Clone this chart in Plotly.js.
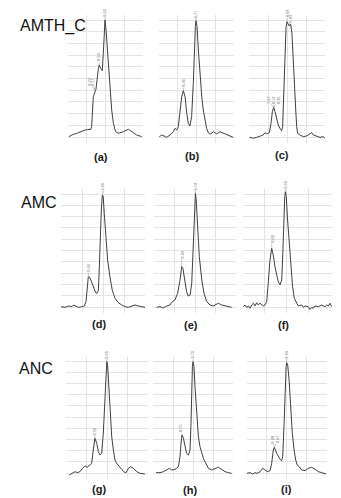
<!DOCTYPE html>
<html><head><meta charset="utf-8">
<script src="https://cdn.plot.ly/plotly-3.0.1.min.js"></script>
<style>html,body{margin:0;padding:0;background:#fff}#chart{width:341px;height:498px}</style>
</head><body><div id="chart"></div>
<script>
// ---------------- DATA ----------------
const panelLabels = ['(a)','(b)','(c)','(d)','(e)','(f)','(g)','(h)','(i)'];
const rowLabels = ['AMTH_C','AMC','ANC'];

const time_a = [0.05,0.28,0.45,0.64,0.75,0.91,1.05,1.17,1.20,1.26,1.35,1.44,1.49,1.62,1.67,1.74,1.83,1.92,1.97,2.03,2.15,2.24,2.33,2.42,2.54,2.68,2.95,3.22,3.40,3.66,3.93];
const signal_a = [0.3,2.3,3.0,4.5,5.2,6.0,6.3,6.6,6.0,8.8,34.4,39.6,40.8,58.7,61.5,58.7,56.7,82.9,100,91.5,60.1,40.2,23.1,11.7,4.5,3.2,4.5,6.6,4.5,1.7,0.3];

const time_b = [0.02,0.14,0.27,0.41,0.59,0.76,0.85,0.94,1.03,1.12,1.21,1.30,1.39,1.48,1.56,1.65,1.74,1.83,1.88,1.94,1.97,2.03,2.10,2.19,2.28,2.36,2.45,2.54,2.63,2.72,2.90,3.08,3.25,3.43,3.61,3.79,3.96];
const signal_b = [0.3,1.7,0.9,-0.3,1.7,4.5,7.4,6.0,8.8,20.2,34.4,39.6,34.4,20.2,11.7,9.4,17.4,45.9,74.4,94.3,99.4,94.3,74.4,51.5,34.4,23.1,13.1,7.4,3.7,2.3,4.5,2.6,4.5,3.2,1.7,0.3,-0.3];

const time_c = [0.02,0.23,0.40,0.58,0.75,0.84,0.93,1.07,1.16,1.23,1.30,1.37,1.46,1.54,1.63,1.72,1.77,1.84,1.89,1.95,2.00,2.07,2.12,2.19,2.26,2.33,2.38,2.46,2.51,2.56,2.68,2.86,3.04,3.21,3.30,3.39,3.56,3.74,3.91,4.00];
const signal_c = [-0.3,-1.1,-0.3,0.9,1.7,3.7,2.6,3.7,11.7,21.6,25.4,21.6,14.5,10.3,7.4,5.4,8.8,45.9,74.4,94.3,98.5,96.6,94.9,96.6,88.6,65.8,43.0,23.1,8.8,3.2,1.7,0.3,0.9,2.6,3.7,1.7,0.9,-0.3,0.3,-1.1];

const time_d = [0.00,0.19,0.35,0.51,0.59,0.70,0.83,0.98,1.11,1.19,1.25,1.30,1.37,1.46,1.59,1.65,1.71,1.78,1.82,1.87,1.92,1.97,2.01,2.06,2.13,2.22,2.33,2.44,2.57,2.73,2.89,3.05,3.21,3.37,3.52,3.68,3.84,4.00];
const signal_d = [0.3,-0.3,0.9,0.3,1.8,0.9,-0.3,0.3,0.9,4.7,18.0,26.8,26.3,22.4,16.5,12.7,12.1,15.0,32.7,62.2,85.8,99.1,97.6,82.9,62.2,41.6,26.8,15.0,7.7,3.8,1.8,0.3,-0.3,0.9,1.8,0.9,0.3,-0.3];

const time_e = [0.13,0.29,0.45,0.62,0.78,0.89,1.02,1.15,1.27,1.35,1.41,1.51,1.59,1.67,1.76,1.84,1.89,1.94,1.99,2.02,2.06,2.13,2.21,2.33,2.44,2.57,2.73,2.89,3.06,3.14,3.30,3.46,3.62,3.79];
const signal_e = [-0.3,0.3,-0.9,0.9,1.8,4.7,6.2,12.1,23.9,35.7,34.2,21.0,13.5,9.7,10.6,21.0,47.5,77.0,97.6,100.6,94.7,71.1,44.5,23.9,12.1,4.7,1.8,0.9,2.7,3.3,1.8,0.9,0.3,-0.3];

const time_f = [0.02,0.09,0.17,0.25,0.32,0.40,0.48,0.55,0.63,0.70,0.78,0.86,0.93,1.01,1.09,1.16,1.24,1.32,1.39,1.47,1.55,1.62,1.70,1.78,1.83,1.87,1.92,1.95,1.99,2.05,2.13,2.21,2.28,2.36,2.47,2.54,2.70,2.77,2.85,3.00,3.08,3.16,3.23,3.31,3.46,3.62,3.77,3.85,3.92,4.00,4.08];
const signal_f = [0.3,1.8,-0.3,0.9,-1.2,1.8,3.3,0.9,3.8,1.8,3.3,1.8,0.9,1.8,4.7,21.0,41.6,51.9,46.0,35.7,26.8,22.4,19.5,23.9,47.5,77.0,97.6,102,97.6,77.0,53.4,32.7,18.0,7.7,3.3,0.9,1.8,-0.3,0.9,0.3,-2.1,-0.3,-1.2,0.9,0.3,1.8,0.3,1.8,0.9,3.3,0.3];

const time_g = [0.16,0.33,0.44,0.55,0.68,0.81,0.93,1.04,1.17,1.25,1.33,1.41,1.50,1.58,1.66,1.74,1.82,1.89,1.94,1.99,2.03,2.08,2.15,2.23,2.31,2.39,2.47,2.55,2.63,2.72,2.80,2.93,3.04,3.16,3.28,3.45,3.61,3.85];
const signal_g = [-1.8,-0.3,1.2,0.3,1.2,4.2,6.3,5.1,7.1,8.7,20.5,31.0,26.5,19.0,16.1,17.6,35.4,65.2,89.0,99.4,96.4,80.1,56.3,32.4,20.5,11.6,8.7,7.1,5.6,3.3,1.2,0.3,4.2,5.6,4.2,1.2,-0.3,-0.9];

const time_h = [0.15,0.35,0.52,0.68,0.82,0.93,1.10,1.27,1.35,1.40,1.45,1.52,1.60,1.68,1.77,1.85,1.90,1.93,1.97,2.00,2.05,2.10,2.18,2.27,2.35,2.43,2.52,2.60,2.68,2.77,2.93,3.10,3.27,3.43,3.60,3.77,3.93];
const signal_h = [0.3,0.3,1.2,2.7,4.2,2.7,3.3,5.6,14.6,26.5,33.9,31.0,23.5,17.6,16.1,20.5,44.4,74.1,94.9,99.4,94.9,77.1,53.3,32.4,23.5,17.6,13.1,10.1,7.1,4.2,2.7,4.2,5.1,3.3,1.2,0.3,-0.3];

const time_i = [0.00,0.17,0.30,0.42,0.53,0.67,0.80,0.92,1.03,1.17,1.25,1.33,1.38,1.50,1.58,1.67,1.75,1.80,1.87,1.92,1.97,2.00,2.05,2.12,2.20,2.28,2.37,2.45,2.53,2.63,2.75,2.92,3.08,3.25,3.42,3.58,3.75,3.97];
const signal_i = [-0.3,0.3,-0.9,0.3,-0.3,1.2,4.2,2.7,1.2,2.1,8.7,20.5,22.9,17.6,14.6,12.2,11.0,14.6,44.4,74.1,94.9,98.5,96.4,83.0,59.2,35.4,20.5,11.6,7.1,5.6,2.7,2.1,4.2,5.1,3.3,1.2,0.3,-0.9];

// peak labels: [peak time, peak signal, label time, label signal, text]
const peaks_a = [[1.97,100,1.97,107,'9.62'],[1.67,61.5,1.67,68.5,'8.94'],[1.44,39.6,1.14,47.5,'8.23'],[1.44,39.6,1.32,47.5,'8.51']];
const peaks_b = [[1.97,99.4,1.97,105.6,'9.71'],[1.30,39.6,1.30,46.6,'8.46']];
const peaks_c = [[2.00,98.5,2.00,105.7,'9.68'],[2.19,96.6,2.21,102,'9.83'],[1.30,25.4,1.00,31.6,'7.97'],[1.30,25.4,1.28,31.6,'8.12'],[1.30,25.4,1.54,31.6,'8.30']];
const peaks_d = [[1.97,99.1,1.97,107,'9.66'],[1.30,26.8,1.30,35,'8.40']];
const peaks_e = [[2.02,100.6,2.02,107,'9.74'],[1.35,35.7,1.35,46.9,'8.49']];
const peaks_f = [[1.95,102,1.95,108.5,'9.60'],[1.32,51.9,1.32,61,'8.42']];
const peaks_g = [[1.99,99.4,1.99,106.3,'9.65'],[1.41,31.0,1.41,37.9,'8.52']];
const peaks_h = [[2.00,99.4,2.00,105.8,'9.70'],[1.45,33.9,1.38,40.6,'8.55']];
const peaks_i = [[2.00,98.5,2.00,106.3,'9.69'],[1.38,22.9,1.30,30.4,'8.28'],[1.38,22.9,1.58,30.4,'8.47']];

// ---------------- LAYOUT (pixel geometry) ----------------
const W = 341, H = 498;
const YMIN = -5, YMAX = 104;
const rowGeom = [{top:20, base:137},{top:194, base:307},{top:361, base:473}];
const panelGeom = [
  {left:68, step:18.75, xmax:4},{left:159, step:18.75, xmax:4},{left:249, step:19, xmax:4},
  {left:61, step:21, xmax:4},{left:154, step:20.5, xmax:4},{left:243, step:21.75, xmax:4.1},
  {left:66, step:20.5, xmax:4},{left:153, step:20, xmax:4},{left:246.7, step:20, xmax:4}
];
const panelLabelPos = [[101,157],[192,156],[282,155],[99,324],[191,325],[283,325],[99,489],[190,490],[286,489]];
const rowLabelPos = [[18,26],[19,203],[17,368]];

const series = [
  [time_a, signal_a, peaks_a],[time_b, signal_b, peaks_b],[time_c, signal_c, peaks_c],
  [time_d, signal_d, peaks_d],[time_e, signal_e, peaks_e],[time_f, signal_f, peaks_f],
  [time_g, signal_g, peaks_g],[time_h, signal_h, peaks_h],[time_i, signal_i, peaks_i]
];

const FONT = 'Liberation Sans, Arial, Helvetica, sans-serif';
const GRID = '#e4e4e4';
const traces = [];
const annotations = [];
const layout = {
  width: W, height: H, margin:{l:0,r:0,t:0,b:0},
  paper_bgcolor:'#ffffff', plot_bgcolor:'#ffffff', showlegend:false,
  font:{family:FONT, color:'#111'}
};

series.forEach((s, i) => {
  const p = panelGeom[i], r = rowGeom[Math.floor(i/3)];
  const ppu = (r.base - r.top) / 100;
  const sfx = i === 0 ? '' : String(i+1);
  const yBot = r.base - YMIN*ppu, yTop = r.base - YMAX*ppu;
  layout['xaxis'+sfx] = {
    domain:[p.left/W, (p.left + p.xmax*p.step)/W], range:[0, p.xmax],
    tickmode:'array', tickvals:[1,2,3], showticklabels:false, ticks:'',
    showgrid:true, gridcolor:GRID, gridwidth:1, zeroline:false, showline:false,
    anchor:'y'+sfx, fixedrange:true
  };
  layout['yaxis'+sfx] = {
    domain:[(H - yBot)/H, (H - yTop)/H], range:[YMIN, YMAX],
    tick0:0, dtick:10, showticklabels:false, ticks:'',
    showgrid:true, gridcolor:GRID, gridwidth:1, zeroline:false, showline:false,
    anchor:'x'+sfx, fixedrange:true
  };
  traces.push({
    x:s[0], y:s[1], xaxis:'x'+sfx, yaxis:'y'+sfx, type:'scatter', mode:'lines',
    line:{color:'#404040', width:1}, hoverinfo:'skip'
  });
  s[2].forEach(pk => {
    annotations.push({
      xref:'x'+sfx, yref:'y'+sfx, x:pk[0], y:pk[1], text:pk[4],
      showarrow:true, arrowhead:0, arrowwidth:0.5, arrowcolor:'#999', standoff:0,
      ax:(pk[2]-pk[0])*p.step, ay:-(pk[3]-pk[1])*ppu,
      textangle:-90, font:{family:FONT, size:4, color:'#777'}, borderpad:0
    });
  });
  annotations.push({
    xref:'paper', yref:'paper', x:panelLabelPos[i][0]/W, y:1 - panelLabelPos[i][1]/H,
    xanchor:'center', yanchor:'middle', showarrow:false, text:'<b>'+panelLabels[i]+'</b>',
    font:{family:FONT, size:11, color:'#1a1a1a'}
  });
});

rowLabels.forEach((t, k) => {
  annotations.push({
    xref:'paper', yref:'paper', x:rowLabelPos[k][0]/W, y:1 - rowLabelPos[k][1]/H,
    xanchor:'left', yanchor:'middle', showarrow:false, text:t,
    font:{family:FONT, size:16, color:'#111'}
  });
});

layout.annotations = annotations;
Plotly.newPlot('chart', traces, layout, {staticPlot:true, displayModeBar:false});
</script>
</body></html>
